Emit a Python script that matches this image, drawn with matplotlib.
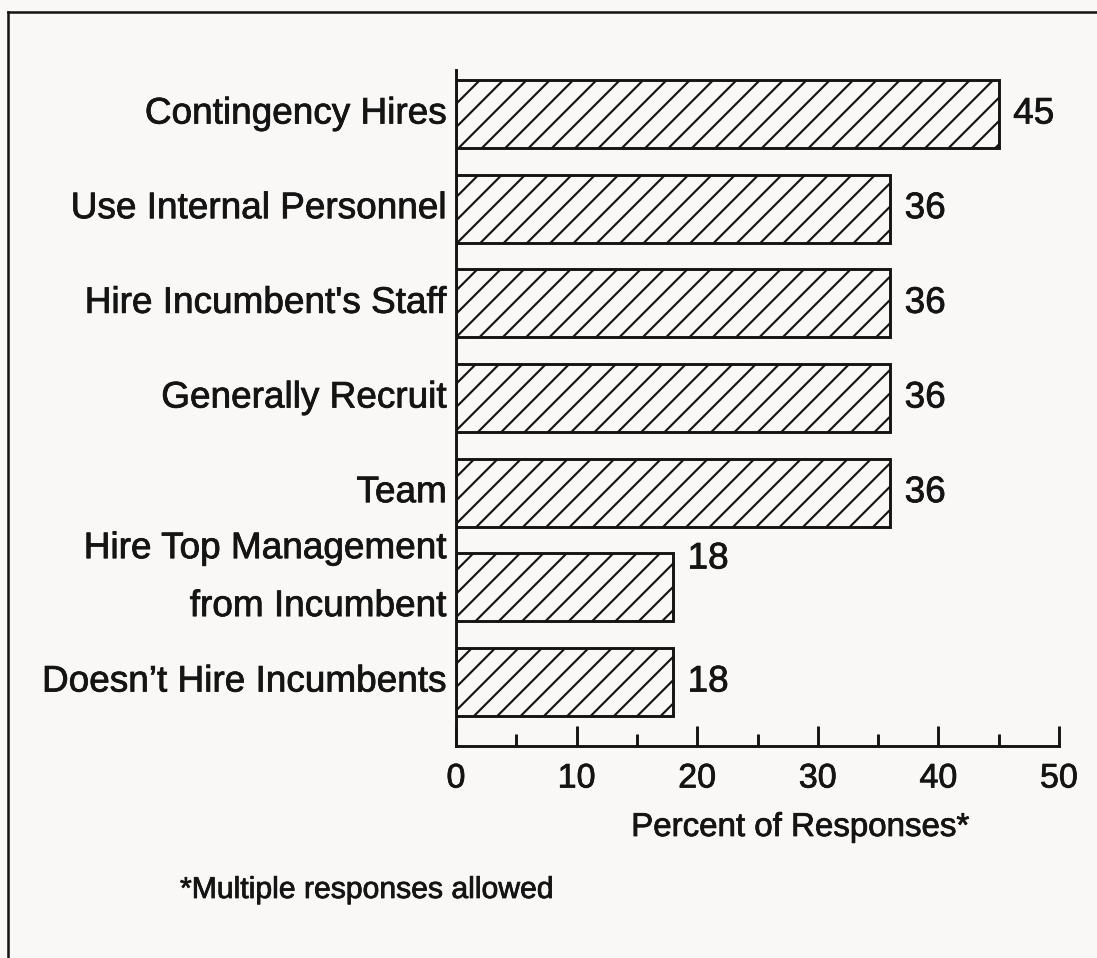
import numpy as np
import matplotlib
matplotlib.use("Agg")
import matplotlib.pyplot as plt
import matplotlib.patheffects as pe
from matplotlib.lines import Line2D
from matplotlib.ticker import MultipleLocator

categories = [
    "Contingency Hires",
    "Use Internal Personnel",
    "Hire Incumbent's Staff",
    "Generally Recruit",
    "Team",
    "Hire Top Management\nfrom Incumbent",
    "Doesn\u2019t Hire Incumbents",
]
percents = [45, 36, 36, 36, 36, 18, 18]
x_ticks = [0, 10, 20, 30, 40, 50]

bg = "#f9f8f6"
ink = "#141414"

plt.rcParams["font.family"] = ["Liberation Sans", "DejaVu Sans"]
plt.rcParams["hatch.linewidth"] = 1.1
plt.rcParams["hatch.color"] = ink

# slightly heavier strokes, like the scanned type
heavy = [pe.withStroke(linewidth=0.4, foreground=ink)]

fig = plt.figure(figsize=(1097 / 140, 958 / 140), dpi=140, facecolor=bg)
ax = fig.add_axes([456 / 1097, 1 - 746 / 958, 603 / 1097, 676 / 958])
ax.set_facecolor(bg)

y = np.arange(len(categories))
ax.barh(y, percents, height=0.72, color=bg, edgecolor=ink,
        linewidth=1.5, hatch="//")

for i, (yi, v) in enumerate(zip(y, percents)):
    # the two-line category sits a bit high in the original, and so does its value
    two_line = "\n" in categories[i]
    dy = -0.3 if two_line else 0
    ax.text(v + 1.2, yi + dy, str(v), va="center", ha="left",
            fontsize=19, color=ink, path_effects=heavy)
    ax.annotate(categories[i], xy=(0, yi), xycoords=ax.get_yaxis_transform(),
                xytext=(-4.5, 5 if two_line else 0), textcoords="offset points",
                ha="right", va="center", fontsize=19, color=ink,
                linespacing=1.85, path_effects=heavy)

ax.set_xlim(0, 50)
ax.set_ylim(6.676, -0.465)
ax.set_xticks(x_ticks)
ax.xaxis.set_minor_locator(MultipleLocator(5))
ax.set_yticks(y)
ax.set_yticklabels([])
for lab in ax.get_xticklabels():
    lab.set_path_effects(heavy)

ax.tick_params(axis="x", which="major", direction="in", length=10.5,
               width=1.5, labelsize=17.5, pad=9, colors=ink)
ax.tick_params(axis="x", which="minor", direction="in", length=6,
               width=1.5, colors=ink)
ax.tick_params(axis="y", length=0)

for s in ["top", "right"]:
    ax.spines[s].set_visible(False)
for s in ["left", "bottom"]:
    ax.spines[s].set_linewidth(1.5)
    ax.spines[s].set_color(ink)

fig.text(800 / 1097, 1 - 836 / 958, "Percent of Responses*", ha="center",
         va="baseline", fontsize=17, color=ink, path_effects=heavy)
fig.text(180 / 1097, 1 - 898 / 958, "*Multiple responses allowed", ha="left",
         va="baseline", fontsize=15.5, color=ink, path_effects=heavy)

# page frame (only top and left edges show)
fig.add_artist(Line2D([8 / 1097, 8 / 1097], [0, 1 - 12 / 958],
                      transform=fig.transFigure, color=ink, lw=1.3))
fig.add_artist(Line2D([8 / 1097, 1], [1 - 12 / 958, 1 - 12 / 958],
                      transform=fig.transFigure, color=ink, lw=1.3))

fig.savefig("out.png", dpi=140, facecolor=bg)
